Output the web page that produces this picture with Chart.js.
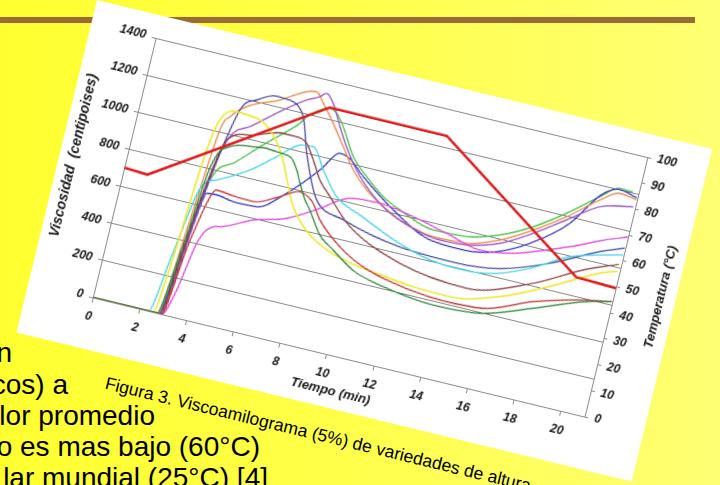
<!DOCTYPE html>
<html><head><meta charset="utf-8">
<script src="https://cdn.jsdelivr.net/npm/chart.js@4.4.1/dist/chart.umd.min.js"></script>
<style>
html,body{margin:0;padding:0;}
body{width:720px;height:485px;overflow:hidden;position:relative;background:linear-gradient(to right,#ffff30 0%,#ffff48 45%,#ffff74 100%);font-family:'Liberation Sans',Arial,sans-serif;}
#rule{position:absolute;left:0;top:17px;width:695px;height:6px;background:#9c6a38;}
.tx{position:absolute;font-size:28px;line-height:28px;color:#000;white-space:nowrap;text-align:right;}
#frame{position:absolute;left:97px;top:0;width:633px;height:342px;transform-origin:0 0;transform:rotate(13.62deg);}
#panel{position:absolute;left:0;top:0;width:633px;height:342px;background:#fff;}
#c{position:absolute;left:0;top:0;}
#ytitle2{position:absolute;left:617px;top:156px;transform:translate(-50%,-50%) rotate(-90deg);font:italic bold 13px 'Liberation Sans',Arial,sans-serif;white-space:nowrap;color:#1a1a1a;}
#caption{position:absolute;left:98.5px;top:360px;font-size:17.5px;white-space:nowrap;color:#000;}
</style></head>
<body>
<div id="rule"></div>
<div class="tx" style="right:708px;top:339px;">n</div>
<div class="tx" style="right:652px;top:371px;">cos) a</div>
<div class="tx" style="right:565px;top:402px;">lor promedio</div>
<div class="tx" style="right:460px;top:433px;">o es mas bajo (60°C)</div>
<div class="tx" style="right:452px;top:464px;">lar mundial (25°C) [4]</div>
<div id="frame">
  <div id="panel"><canvas id="c" width="633" height="342"></canvas></div>
  <div id="ytitle2">Temperatura (°C)</div>
  <div id="caption">Figura 3. Viscoamilograma (5%) de variedades de altura</div>
</div>
<script>
// Temperature program (right axis, °C)
const tempT = [0, 1, 7.7, 12.7, 19.3, 21];
const tempV = [50, 49.5, 90, 90, 50, 49.5];

// Viscosity curves (left axis, centipoises) vs time (min)
const yellowT = [0, 2.6, 2.85, 3.11, 3.39, 3.99, 5.01, 6.11, 7.2, 8.0, 9.0, 10.2, 11.4, 12.8, 14.4, 16.4, 18.3, 20.2, 20.9];
const yellowV = [0, 0, 300, 836, 1061, 1124, 1110, 982, 709, 600, 530, 490, 470, 450, 444, 506, 619, 749, 780];

const dkgreenT = [0, 2.75, 3.15, 3.45, 4.06, 5.0, 5.55, 6.0, 6.58, 6.98, 7.24, 7.6, 7.9, 8.55, 9.23, 10.3, 11.6, 13.8, 15.9, 17.87, 19.82, 20.97];
const dkgreenV = [0, 0, 400, 800, 937, 966, 974, 969, 960, 901, 837, 760, 713, 598, 538, 455, 413, 381, 401, 488, 583, 619];

const redT = [0, 2.95, 3.35, 3.94, 4.7, 5.54, 6.5, 7.32, 7.9, 8.4, 9.5, 10.8, 12.72, 14.2, 15.85, 17.81, 19.8, 20.97];
const redV = [0, 0, 400, 700, 690, 686, 740, 794, 760, 675, 560, 480, 429, 415, 426, 522, 592, 619];

const blueT = [0, 2.85, 3.25, 3.57, 3.99, 4.8, 5.72, 6.8, 7.92, 8.56, 9.0, 9.73, 11.43, 13.04, 14.48, 15.84, 17.1, 18.52, 19.5, 20.2, 20.97];
const blueV = [0, 0, 400, 671, 675, 660, 664, 770, 930, 1040, 1025, 949, 804, 709, 699, 731, 815, 967, 1150, 1200, 1179];

const magentaT = [0, 2.95, 3.31, 3.66, 4.17, 4.44, 5.71, 7.04, 8.29, 9.02, 9.4, 10.66, 12.14, 13.64, 15.15, 16.53, 17.84, 18.75, 20.0, 21.0];
const magentaV = [0, 0, 141, 404, 509, 517, 592, 642, 734, 801, 822, 834, 807, 763, 719, 744, 802, 847, 920, 969];

const cyanT = [0, 2.4, 2.8, 3.26, 3.85, 5.09, 6.04, 6.87, 7.42, 8.05, 8.85, 10.05, 11.69, 13.23, 14.67, 16.05, 17.35, 18.85, 20.97];
const cyanV = [0, 0, 330, 688, 751, 843, 944, 1032, 1040, 934, 814, 745, 660, 607, 597, 621, 688, 796, 871];

const orangeT = [0, 2.8, 3.15, 3.49, 3.77, 4.34, 5.62, 6.61, 7.02, 7.4, 7.83, 8.63, 9.26, 10.0, 10.83, 11.63, 13.14, 14.55, 15.86, 17.11, 18.32, 19.5, 20.24, 20.98];
const orangeV = [0, 0, 500, 1010, 1090, 1162, 1237, 1312, 1324, 1274, 1210, 1077, 971, 885, 821, 774, 730, 737, 795, 887, 996, 1122, 1181, 1168];

const purpleT = [0, 2.95, 3.35, 3.79, 4.67, 5.85, 6.7, 7.2, 7.44, 7.8, 8.3, 8.76, 9.39, 9.96, 10.99, 12.1, 13.44, 14.57, 15.89, 17.14, 18.35, 19.57, 20.91];
const purpleV = [0, 0, 500, 929, 1064, 1190, 1270, 1303, 1329, 1286, 1175, 1081, 975, 902, 808, 752, 721, 729, 778, 870, 980, 1088, 1129];

const greenT = [0, 2.8, 3.2, 3.58, 4.35, 5.27, 6.08, 6.65, 6.86, 7.33, 7.72, 8.04, 8.43, 9.13, 9.87, 10.73, 11.53, 13.07, 14.48, 15.81, 17.08, 18.29, 19.47, 20.19, 20.75];
const greenV = [0, 0, 400, 743, 857, 974, 1071, 1143, 1185, 1235, 1256, 1239, 1179, 1039, 953, 872, 825, 764, 771, 821, 904, 1014, 1139, 1207, 1204];

const maroonT = [0, 2.9, 3.35, 3.86, 4.75, 6.08, 6.65, 7.12, 7.55, 8.01, 8.58, 9.68, 12.05, 14.99, 17.63, 19.51, 20.9];
const maroonV = [0, 0, 600, 967, 1021, 1071, 1070, 1049, 972, 879, 806, 678, 553, 508, 616, 745, 818];

const navyT = [0, 2.85, 3.25, 3.6, 3.85, 4.1, 4.68, 5.45, 6.17, 6.72, 7.22, 8.08, 9.34, 11.94, 14.3, 16.15, 18.1, 20.0, 20.97];
const navyV = [0, 0, 450, 800, 990, 1137, 1208, 1253, 1245, 1181, 998, 772, 704, 635, 625, 650, 738, 859, 908];

// Axis ticks
const xTickStep = 2, xMin = 0, xMax = 21;
const yTickStep = 200, yMin = 0, yMax = 1400;
const y2TickStep = 10, y2Min = 0, y2Max = 100;

function pts(t, v) { return t.map((x, i) => ({ x: x, y: v[i] })); }

const curves = [
  { t: dkgreenT, v: dkgreenV, c: '#2f8a3a' },
  { t: redT, v: redV, c: '#c83636' },
  { t: yellowT, v: yellowV, c: '#eeea2c', w: 1.6 },
  { t: maroonT, v: maroonV, c: '#8e3e40' },
  { t: cyanT, v: cyanV, c: '#3fd6e6' },
  { t: magentaT, v: magentaV, c: '#e044e0' },
  { t: navyT, v: navyV, c: '#4a4aa8' },
  { t: purpleT, v: purpleV, c: '#9b52c4' },
  { t: orangeT, v: orangeV, c: '#ef8a4c' },
  { t: blueT, v: blueV, c: '#3535c8' },
  { t: greenT, v: greenV, c: '#46c446' }
];

const datasets = [{
  data: pts(tempT, tempV), yAxisID: 'y2', borderColor: '#e01c1c', borderWidth: 2.6,
  pointRadius: 0, tension: 0, fill: false
}].concat(curves.map(s => ({
  data: pts(s.t, s.v), yAxisID: 'y', borderColor: s.c, borderWidth: s.w || 1.3,
  pointRadius: 0, cubicInterpolationMode: 'monotone', fill: false
})));

const tickFont = { family: "'Liberation Sans', Arial, sans-serif", size: 12, weight: 'bold', style: 'italic' };
const titleFont = { family: "'Liberation Sans', Arial, sans-serif", size: 13, weight: 'bold', style: 'italic' };
const gridCol = '#8c8c8c';
const plain = v => String(v);

new Chart(document.getElementById('c'), {
  type: 'line',
  data: { datasets: datasets },
  options: {
    responsive: false, animation: false, devicePixelRatio: 1,
    layout: { padding: { top: 23, left: 0, right: 0, bottom: 0 } },
    plugins: { legend: { display: false }, tooltip: { enabled: false } },
    scales: {
      x: {
        type: 'linear', min: xMin, max: xMax,
        ticks: { stepSize: xTickStep, includeBounds: false, autoSkip: false, maxRotation: 0, font: tickFont, color: '#1a1a1a', padding: 7, callback: plain },
        grid: { drawOnChartArea: false, drawTicks: true, tickLength: 5, color: gridCol },
        border: { color: gridCol },
        title: { display: true, text: 'Tiempo (min)', font: titleFont, color: '#1a1a1a', padding: { top: 0, bottom: 9 } },
        afterFit: s => { s.height = 52; }
      },
      y: {
        position: 'left', min: yMin, max: yMax,
        ticks: { stepSize: yTickStep, font: tickFont, color: '#1a1a1a', padding: 6, callback: plain },
        grid: { color: gridCol, lineWidth: 1, tickLength: 4 },
        border: { color: gridCol },
        title: { display: true, text: 'Viscosidad  (centipoises)', font: { family: "'Liberation Sans', Arial, sans-serif", size: 14, weight: 'bold', style: 'italic' }, color: '#1a1a1a', padding: { top: 6, bottom: 0 } },
        afterFit: s => { s.width = 66; }
      },
      y2: {
        position: 'right', min: y2Min, max: y2Max,
        ticks: { stepSize: y2TickStep, font: tickFont, color: '#1a1a1a', padding: 6, callback: plain },
        grid: { drawOnChartArea: false, tickLength: 4, color: gridCol },
        border: { color: gridCol },
        afterFit: s => { s.width = 61; }
      }
    }
  }
});
</script>
</body></html>
